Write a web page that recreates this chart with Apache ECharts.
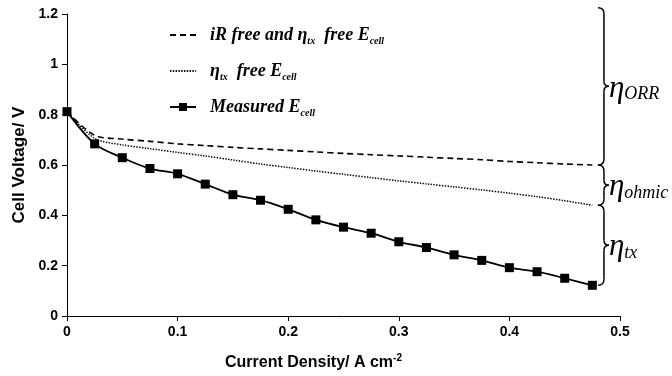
<!DOCTYPE html>
<html>
<head>
<meta charset="utf-8">
<script src="https://cdn.jsdelivr.net/npm/echarts@6/dist/echarts.min.js"></script>
<style>html,body{margin:0;padding:0;background:#fff;}#c{width:672px;height:376px;}</style>
</head>
<body>
<div id="c"></div>
<script>
const currentDensity = [0, 0.025, 0.05, 0.075, 0.1, 0.125, 0.15, 0.175, 0.2, 0.225, 0.25, 0.275, 0.3, 0.325, 0.35, 0.375, 0.4, 0.425, 0.45, 0.475];
const measuredEcell = [0.812, 0.684, 0.629, 0.586, 0.565, 0.524, 0.482, 0.460, 0.424, 0.382, 0.353, 0.329, 0.295, 0.272, 0.243, 0.221, 0.192, 0.176, 0.150, 0.122];
const iRTxFreeEcell = [0.812, 0.718, 0.703, 0.694, 0.684, 0.677, 0.670, 0.664, 0.658, 0.652, 0.646, 0.641, 0.636, 0.631, 0.626, 0.621, 0.614, 0.609, 0.604, 0.600];
const txFreeEcell = [0.812, 0.706, 0.680, 0.665, 0.650, 0.636, 0.620, 0.604, 0.590, 0.576, 0.563, 0.550, 0.537, 0.525, 0.513, 0.501, 0.488, 0.474, 0.458, 0.440];
const xTicks = [0, 0.1, 0.2, 0.3, 0.4, 0.5];
const yTicks = [0, 0.2, 0.4, 0.6, 0.8, 1.0, 1.2];
const seriesNames = ['iR free and ηtx free Ecell', 'ηtx free Ecell', 'Measured Ecell'];
const legendRich = {
  'iR free and ηtx free Ecell': '{t|iR free and η}{s|tx}{t|  free E}{s|cell}',
  'ηtx free Ecell': '{t|η}{s|tx}{t|  free E}{s|cell}',
  'Measured Ecell': '{t|Measured E}{s|cell}'
};
const braceTop = 1.225;

const pairs = ys => currentDensity.map((x, i) => [x, ys[i]]);
const chart = echarts.init(document.getElementById('c'), null, {renderer: 'canvas'});
const axisFont = {fontFamily: 'Liberation Sans, Arial', fontWeight: 'bold', fontSize: 14, color: '#000'};
const serif = 'Liberation Serif, Times New Roman, serif';

chart.setOption({
  animation: false,
  backgroundColor: '#fff',
  grid: {left: 67, right: 52, top: 14, bottom: 56, containLabel: false},
  legend: {
    orient: 'vertical', left: 164, top: 21, itemWidth: 26, itemHeight: 10, itemGap: 16,
    data: [
      {name: seriesNames[0], itemStyle: {opacity: 0}},
      {name: seriesNames[1], itemStyle: {opacity: 0}},
      {name: seriesNames[2]}
    ],
    formatter: n => legendRich[n],
    textStyle: {
      padding: [0, 0, 0, 9],
      rich: {
        t: {fontFamily: serif, fontStyle: 'italic', fontWeight: 'bold', fontSize: 18, color: '#000', lineHeight: 22},
        s: {fontFamily: serif, fontStyle: 'italic', fontWeight: 'bold', fontSize: 10, color: '#000', lineHeight: 22, verticalAlign: 'bottom', padding: [7, 0, 0, 0]}
      }
    }
  },
  xAxis: {
    type: 'value', min: xTicks[0], max: xTicks[xTicks.length - 1], interval: 0.1,
    splitLine: {show: false},
    axisLine: {lineStyle: {color: '#000', width: 1}},
    axisTick: {show: true, length: 5, lineStyle: {color: '#000'}},
    axisLabel: Object.assign({margin: 9}, axisFont),
    name: '{n|Current Density/ A cm}{sup|-2}',
    nameLocation: 'middle', nameGap: 37,
    nameTextStyle: {
      padding: [0, 60, 0, 0],
      rich: {
        n: {fontFamily: 'Liberation Sans, Arial', fontWeight: 'bold', fontSize: 16, color: '#000', lineHeight: 20},
        sup: {fontFamily: 'Liberation Sans, Arial', fontWeight: 'bold', fontSize: 10, color: '#000', lineHeight: 20, verticalAlign: 'top', padding: [0, 0, 8, 0]}
      }
    }
  },
  yAxis: {
    type: 'value', min: yTicks[0], max: yTicks[yTicks.length - 1], interval: 0.2,
    splitLine: {show: false},
    axisLine: {show: true, lineStyle: {color: '#000', width: 1}},
    axisTick: {show: true, length: 5, lineStyle: {color: '#000'}},
    axisLabel: Object.assign({margin: 9}, axisFont),
    name: 'Cell Voltage/ V', nameLocation: 'middle', nameGap: 34,
    nameTextStyle: {fontFamily: 'Liberation Sans, Arial', fontWeight: 'bold', fontSize: 17, color: '#000'}
  },
  series: [
    {name: seriesNames[0], type: 'line', data: pairs(iRTxFreeEcell), smooth: 0.3, symbol: 'none',
     lineStyle: {color: '#000', width: 1.6, type: [6, 4]}, itemStyle: {color: '#000'}},
    {name: seriesNames[1], type: 'line', data: pairs(txFreeEcell), smooth: 0.3, symbol: 'none',
     lineStyle: {color: '#000', width: 1.5, type: [1.4, 1.4]}, itemStyle: {color: '#000'}},
    {name: seriesNames[2], type: 'line', data: pairs(measuredEcell), smooth: 0.3, symbol: 'rect', symbolSize: 9,
     lineStyle: {color: '#000', width: 1.8}, itemStyle: {color: '#000'}}
  ]
});

// Curly-brace annotations placed via the chart's own scales
const px = v => chart.convertToPixel({xAxisIndex: 0, yAxisIndex: 0}, v);
const last = arr => arr[arr.length - 1];
const xB = px([0.4855, 0])[0];
const stroke = {stroke: '#000', lineWidth: 1.5, fill: null};
function braceParts(x, y1, y2) {
  const ym = (y1 + y2) / 2, h = 6;
  return [
    {type: 'bezierCurve', shape: {x1: x - 6, y1: y1, cpx1: x, cpy1: y1, x2: x, y2: y1 + h}, style: stroke},
    {type: 'line', shape: {x1: x, y1: y1 + h, x2: x, y2: ym - 5}, style: stroke},
    {type: 'bezierCurve', shape: {x1: x, y1: ym - 5, cpx1: x, cpy1: ym, x2: x + 5, y2: ym}, style: stroke},
    {type: 'bezierCurve', shape: {x1: x + 5, y1: ym, cpx1: x, cpy1: ym, x2: x, y2: ym + 5}, style: stroke},
    {type: 'line', shape: {x1: x, y1: ym + 5, x2: x, y2: y2 - h}, style: stroke},
    {type: 'bezierCurve', shape: {x1: x, y1: y2 - h, cpx1: x, cpy1: y2, x2: x - 6, y2: y2}, style: stroke}
  ];
}
const bounds = [
  [braceTop, last(iRTxFreeEcell), 'ORR'],
  [last(iRTxFreeEcell), last(txFreeEcell), 'ohmic'],
  [last(txFreeEcell), last(measuredEcell), 'tx']
];
let graphics = [];
bounds.forEach(([a, b, sub]) => {
  const y1 = px([0, a])[1], y2 = px([0, b])[1];
  graphics = graphics.concat(braceParts(xB, y1, y2));
  graphics.push({type: 'text', x: xB + 5, y: (y1 + y2) / 2 + 2,
    style: {text: '{e|η}{s|' + sub + '}', verticalAlign: 'middle', align: 'left',
      rich: {
        e: {fontFamily: serif, fontStyle: 'italic', fontSize: 31, fill: '#000', lineHeight: 30},
        s: {fontFamily: serif, fontStyle: 'italic', fontSize: 18, fill: '#000', lineHeight: 30, verticalAlign: 'bottom', padding: [8, 0, 0, 0]}
      }}});
});
chart.setOption({graphic: graphics});
</script>
</body>
</html>
